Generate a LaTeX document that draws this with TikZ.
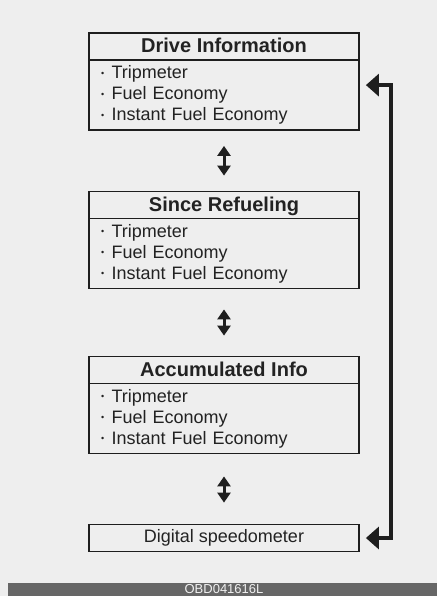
\documentclass[tikz,border=0pt]{standalone}
\usepackage{fontspec}
\setmainfont{Liberation Sans}
\usepackage{tikz}
\usetikzlibrary{arrows.meta}
\definecolor{bg}{HTML}{EEEEEE}
\definecolor{ink}{HTML}{1E1E1E}
\definecolor{txt}{HTML}{222222}
\definecolor{barc}{HTML}{666666}
\tikzstyle{head} = [draw=ink, line width=1.8pt, minimum width=270pt, minimum height=27pt, inner sep=0pt, text height=15pt, text depth=2pt, text=txt, font=\fontsize{20}{24}\selectfont\bfseries]
\tikzstyle{list} = [draw=ink, line width=1.8pt, minimum width=270pt, minimum height=70pt, text width=246pt, inner xsep=12pt, inner ysep=0pt, align=left, text=txt, font=\fontsize{18}{21}\selectfont]
\tikzstyle{foot} = [draw=ink, line width=1.8pt, minimum width=270pt, minimum height=27pt, inner sep=0pt, text=txt, font=\fontsize{18}{21}\selectfont]
\tikzstyle{dblarrow} = [line width=3pt, draw=ink, {Triangle[width=13pt,length=10pt]}-{Triangle[width=13pt,length=10pt]}]
\tikzstyle{looparrow} = [line width=4.5pt, draw=ink, {Triangle[width=22pt,length=13pt]}-{Triangle[width=22pt,length=13pt]}]
\newcommand{\dotitem}{\raisebox{2.2pt}{\fontsize{9}{9}\selectfont •}\hspace{7.5pt}}

\begin{document}
\begin{tikzpicture}[node distance=48.5pt]
\useasboundingbox (0,0) rectangle (437pt,-596pt);
\fill[bg] (0,0) rectangle (437pt,-596pt);

\node[head] (drive) at (224pt,-46.5pt) {Drive Information};
\node[list] (drivelist) [below of=drive] {\dotitem Tripmeter\\ \dotitem Fuel Economy\\ \dotitem Instant Fuel Economy};
\node[head] (since) [below of=drivelist, yshift=-61.5pt] {Since Refueling};
\node[list] (sincelist) [below of=since] {\dotitem Tripmeter\\ \dotitem Fuel Economy\\ \dotitem Instant Fuel Economy};
\node[head] (accum) [below of=sincelist, yshift=-68pt] {Accumulated Info};
\node[list] (accumlist) [below of=accum] {\dotitem Tripmeter\\ \dotitem Fuel Economy\\ \dotitem Instant Fuel Economy};
\node[foot] (speedo) [below of=accumlist, yshift=-71pt] {Digital speedometer};

\draw [dblarrow, shorten <=15pt, shorten >=15pt] (drivelist) -- (since);
\draw [dblarrow, shorten <=20pt, shorten >=20pt] (sincelist) -- (accum);
\draw [dblarrow, shorten <=22pt, shorten >=21pt] (accumlist) -- (speedo);

\draw [looparrow] ([xshift=6pt]speedo.east) -- ++(25pt,0) |- ([xshift=6pt,yshift=-26pt]drivelist.north east);

\fill[barc] (8pt,-583pt) rectangle (437pt,-596pt);
\node[text=white!94!black, font=\fontsize{13}{14}\selectfont, inner sep=0pt] (code) at (224pt,-589.5pt) {OBD041616L};
\end{tikzpicture}
\end{document}
